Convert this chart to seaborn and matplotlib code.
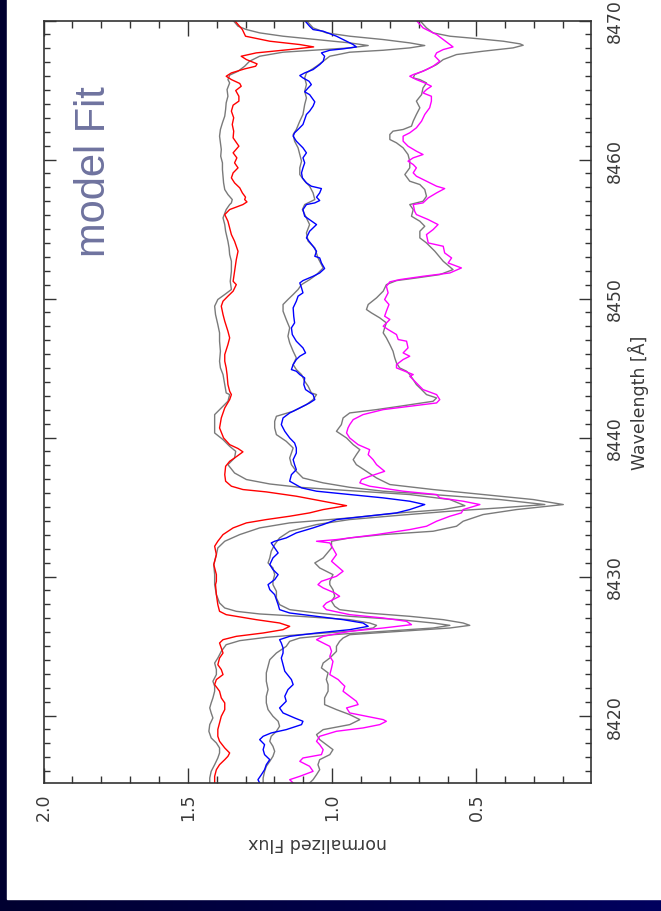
import numpy as np
import matplotlib
matplotlib.use("Agg")
import matplotlib.pyplot as plt
import seaborn as sns
from matplotlib.colors import LinearSegmentedColormap
from matplotlib.ticker import MultipleLocator, FormatStrFormatter
from matplotlib.patches import Rectangle

# ---------------- data (wavelength in Angstrom, normalized flux) ----------------
red_wl = [8470.0, 8469.35, 8468.87, 8468.51, 8468.27, 8468.10, 8467.91, 8467.67, 8467.43, 8467.19,
          8466.88, 8466.71, 8466.52, 8466.23, 8465.99, 8465.75, 8465.47, 8465.27, 8464.96, 8464.55,
          8464.20, 8463.91, 8463.48, 8463.00, 8462.52, 8462.04, 8461.56, 8460.96, 8460.48, 8460.12,
          8459.76, 8459.40, 8459.04, 8458.68, 8458.32, 8457.96, 8457.60, 8457.29, 8457.12, 8456.95,
          8456.76, 8456.40, 8456.04, 8455.56, 8455.08, 8454.60, 8454.12, 8453.40, 8452.80, 8451.96,
          8451.24, 8451.00, 8450.53, 8450.17, 8449.81, 8449.45, 8448.85, 8448.37, 8447.65, 8447.17,
          8446.69, 8445.97, 8445.49, 8445.01, 8444.53, 8443.81, 8443.33,
          8443.09, 8442.73, 8442.13, 8441.41, 8440.69, 8439.97, 8439.49, 8439.21, 8438.97, 8438.65,
          8438.29, 8437.93, 8437.33, 8436.86, 8436.50, 8436.26, 8436.09, 8435.78, 8435.42, 8435.10,
          8434.82, 8434.58, 8434.34, 8434.10, 8433.86, 8433.50, 8433.02, 8432.54, 8432.18, 8431.58,
          8430.86, 8430.14, 8429.66,
          8429.42, 8428.70, 8427.98, 8427.50, 8427.26, 8427.14, 8426.90, 8426.66, 8426.42, 8426.18,
          8425.94, 8425.70, 8425.46, 8425.22, 8424.86, 8424.50, 8424.14, 8423.66, 8423.31, 8422.95,
          8422.59, 8422.23, 8421.75, 8421.27, 8420.91, 8420.43, 8419.95, 8419.47, 8419.00, 8418.51,
          8418.15, 8417.67, 8417.31, 8417.07, 8416.83, 8416.47, 8416.11, 8415.63, 8415.15]
red_flux = [1.338, 1.311, 1.300, 1.216, 1.112, 1.064, 1.147, 1.263, 1.315, 1.297,
            1.260, 1.265, 1.303, 1.349, 1.367, 1.349, 1.320, 1.315, 1.334, 1.323,
            1.323, 1.343, 1.349, 1.341, 1.346, 1.341, 1.343, 1.323, 1.343, 1.330,
            1.338, 1.326, 1.343, 1.349, 1.338, 1.320, 1.311, 1.300, 1.303, 1.295,
            1.309, 1.355, 1.372, 1.361, 1.355, 1.349, 1.338, 1.326, 1.332, 1.338,
            1.343, 1.332, 1.343, 1.361, 1.378, 1.384, 1.378, 1.372, 1.361, 1.355,
            1.361, 1.372, 1.372, 1.367, 1.364, 1.361, 1.355,
            1.349, 1.355, 1.372, 1.384, 1.390, 1.376, 1.355, 1.326, 1.309, 1.330,
            1.355, 1.369, 1.372, 1.369, 1.349, 1.309, 1.228, 1.124, 1.031, 0.950,
            1.031, 1.078, 1.147, 1.228, 1.297, 1.343, 1.378, 1.396, 1.407, 1.401,
            1.410, 1.401, 1.401,
            1.404, 1.401, 1.396, 1.390, 1.367, 1.332, 1.263, 1.182, 1.147, 1.170,
            1.239, 1.332, 1.378, 1.390, 1.384, 1.378, 1.390, 1.396, 1.384, 1.378,
            1.401, 1.407, 1.390, 1.384, 1.372, 1.372, 1.384, 1.390, 1.396, 1.396,
            1.390, 1.372, 1.355, 1.361, 1.372, 1.390, 1.401, 1.407, 1.407]

grayA_wl = [8470.0, 8469.59, 8469.35, 8469.11, 8468.87, 8468.63, 8468.39, 8468.20, 8468.03, 8467.84,
            8467.72, 8467.43, 8467.07, 8466.71, 8466.35, 8466.07, 8465.75, 8465.51, 8465.03, 8464.55,
            8464.08, 8463.60, 8463.12, 8462.64, 8462.16, 8461.68, 8461.20, 8460.72, 8460.24, 8459.76,
            8459.28, 8458.80, 8458.32, 8457.84, 8457.48, 8457.12, 8456.88,
            8456.76, 8456.40, 8455.80, 8455.32, 8454.84, 8454.12, 8453.64, 8453.16, 8452.68, 8451.96,
            8451.24, 8450.65, 8450.29, 8449.93, 8449.45, 8448.85, 8448.13, 8447.53, 8446.93, 8446.21,
            8445.49, 8445.01, 8444.53, 8443.81, 8443.21,
            8443.09, 8442.61, 8442.13, 8441.65, 8440.93, 8440.33, 8439.85, 8439.37, 8439.01, 8438.53,
            8438.05, 8437.45, 8436.98, 8436.66, 8436.42, 8436.18, 8435.90, 8435.54, 8435.10, 8434.82,
            8434.58, 8434.22, 8433.86, 8433.50, 8433.02, 8432.54, 8432.06, 8431.58, 8430.86, 8430.14,
            8429.66,
            8429.42, 8428.70, 8428.10, 8427.74, 8427.50, 8427.31, 8427.14, 8426.90, 8426.66, 8426.49,
            8426.30, 8426.06, 8425.82, 8425.63, 8425.39, 8425.10, 8424.62, 8424.14, 8423.78, 8423.31,
            8422.95, 8422.47, 8422.11, 8421.75, 8421.27, 8420.91, 8420.55, 8420.19, 8419.83, 8419.35,
            8418.87, 8418.39, 8418.03, 8417.67, 8417.31, 8416.95, 8416.47, 8415.99, 8415.51, 8415.15]
grayA_flux = [1.343, 1.326, 1.297, 1.251, 1.170, 1.054, 0.939, 0.875, 0.939, 1.078,
              1.170, 1.251, 1.286, 1.303, 1.326, 1.355, 1.361, 1.355, 1.364, 1.361,
              1.367, 1.369, 1.372, 1.380, 1.387, 1.390, 1.387, 1.384, 1.386, 1.380,
              1.380, 1.378, 1.376, 1.372, 1.361, 1.346, 1.349,
              1.355, 1.367, 1.378, 1.372, 1.369, 1.361, 1.357, 1.355, 1.349, 1.349,
              1.353, 1.349, 1.372, 1.396, 1.407, 1.404, 1.396, 1.390, 1.390, 1.387,
              1.390, 1.387, 1.378, 1.372, 1.367,
              1.355, 1.361, 1.384, 1.407, 1.407, 1.407, 1.378, 1.355, 1.334, 1.338,
              1.361, 1.338, 1.297, 1.216, 1.112, 0.939, 0.731, 0.592, 0.540, 0.615,
              0.766, 0.939, 1.147, 1.251, 1.320, 1.372, 1.396, 1.401, 1.410, 1.407,
              1.407,
              1.407, 1.401, 1.390, 1.372, 1.332, 1.251, 1.112, 0.939, 0.870, 0.846,
              0.858, 0.939, 1.112, 1.228, 1.320, 1.367, 1.384, 1.396, 1.407, 1.401,
              1.401, 1.413, 1.407, 1.407, 1.413, 1.419, 1.424, 1.419, 1.413, 1.424,
              1.427, 1.419, 1.401, 1.390, 1.390, 1.396, 1.407, 1.419, 1.424, 1.424]

blue_wl = [8470.0, 8469.59, 8469.35, 8469.23, 8468.87, 8468.51, 8468.27, 8468.10, 8467.96, 8467.86,
           8467.67, 8467.43, 8467.07, 8466.83, 8466.47, 8466.23, 8466.04, 8465.87, 8465.63, 8465.39,
           8465.15, 8464.87, 8464.67, 8464.15, 8463.84, 8463.48, 8463.24, 8462.88, 8462.52, 8462.16,
           8461.92, 8461.68, 8461.32, 8460.84, 8460.48, 8460.12, 8459.76, 8459.40, 8459.04, 8458.68,
           8458.32, 8458.08, 8457.91, 8457.60, 8457.29, 8457.05, 8456.88,
           8456.76, 8456.40, 8455.92, 8455.32, 8454.84, 8454.36, 8453.76, 8453.40, 8453.04, 8452.92,
           8452.56, 8452.16, 8451.84, 8451.60, 8451.29, 8451.12, 8450.77, 8450.41, 8450.17, 8449.81,
           8449.33, 8448.73, 8448.25, 8447.89, 8447.41, 8446.93, 8446.45, 8446.09, 8445.85, 8445.61,
           8445.25, 8444.89, 8444.77, 8444.53, 8444.29, 8443.81, 8443.45,
           8443.09, 8442.73, 8442.49, 8442.13, 8441.77, 8441.41, 8440.93, 8440.45, 8439.97, 8439.61,
           8439.25, 8438.89, 8438.41, 8438.05, 8437.69, 8437.33, 8436.86, 8436.38, 8436.14, 8435.90,
           8435.66, 8435.42, 8435.18, 8434.82, 8434.58, 8434.34, 8434.10, 8433.74, 8433.50, 8433.14,
           8432.78, 8432.54, 8432.42, 8432.06, 8431.70, 8431.34, 8430.86, 8430.50, 8430.14, 8429.78,
           8429.42, 8429.06, 8428.70, 8428.34, 8427.98, 8427.62, 8427.38, 8427.14, 8426.90, 8426.66,
           8426.42, 8426.18, 8425.94, 8425.70, 8425.46, 8425.22, 8424.86, 8424.50, 8424.14, 8423.66,
           8423.19, 8422.59, 8422.23, 8421.87, 8421.39, 8421.03, 8420.55, 8420.19, 8419.83, 8419.59,
           8419.35, 8418.99, 8418.75, 8418.51, 8418.27, 8417.91, 8417.55, 8417.19, 8416.83, 8416.47,
           8416.11, 8415.75, 8415.39, 8415.15]
blue_flux = [1.095, 1.078, 1.066, 1.031, 0.985, 0.950, 0.927, 0.916, 0.962, 1.008,
             1.037, 1.026, 1.031, 1.043, 1.066, 1.095, 1.112, 1.101, 1.080, 1.072,
             1.083, 1.095, 1.078, 1.060, 1.066, 1.078, 1.089, 1.095, 1.101, 1.118,
             1.130, 1.135, 1.124, 1.101, 1.089, 1.101, 1.095, 1.101, 1.106, 1.103,
             1.089, 1.072, 1.037, 1.043, 1.054, 1.043, 1.060,
             1.089, 1.101, 1.095, 1.054, 1.078, 1.089, 1.066, 1.054, 1.060, 1.043,
             1.037, 1.026, 1.043, 1.066, 1.101, 1.112, 1.106, 1.101, 1.118, 1.124,
             1.135, 1.133, 1.130, 1.141, 1.138, 1.124, 1.101, 1.092, 1.112, 1.124,
             1.135, 1.141, 1.124, 1.112, 1.095, 1.098, 1.092,
             1.066, 1.060, 1.078, 1.112, 1.147, 1.170, 1.176, 1.164, 1.147, 1.130,
             1.124, 1.124, 1.135, 1.130, 1.124, 1.141, 1.147, 1.106, 1.054, 0.939,
             0.823, 0.731, 0.679, 0.731, 0.777, 0.881, 0.985, 1.031, 1.066, 1.124,
             1.159, 1.199, 1.211, 1.199, 1.187, 1.205, 1.216, 1.205, 1.187, 1.199,
             1.222, 1.216, 1.199, 1.193, 1.187, 1.182, 1.147, 1.054, 0.962, 0.893,
             0.875, 0.939, 1.054, 1.147, 1.182, 1.176, 1.170, 1.170, 1.176, 1.170,
             1.164, 1.141, 1.135, 1.153, 1.164, 1.159, 1.182, 1.170, 1.130, 1.101,
             1.106, 1.159, 1.211, 1.239, 1.251, 1.234, 1.239, 1.234, 1.216, 1.228,
             1.234, 1.245, 1.257, 1.251]

grayB_wl = [8470.0, 8469.47, 8469.11, 8468.87, 8468.63, 8468.39, 8468.20, 8468.03, 8467.86, 8467.72,
            8467.43, 8467.07, 8466.71, 8466.23, 8465.87, 8465.39, 8464.91, 8464.43, 8463.96, 8463.24,
            8462.76, 8462.16, 8461.80, 8461.32, 8460.84, 8460.36, 8459.88, 8459.40, 8458.92, 8458.44,
            8458.08, 8457.60, 8457.12,
            8456.76, 8456.40, 8455.80, 8455.32, 8454.72, 8454.12, 8453.64, 8452.92, 8452.44, 8452.20,
            8451.72, 8451.36, 8451.00, 8450.65, 8450.29, 8449.93, 8449.57, 8449.09, 8448.49, 8447.89,
            8447.29, 8446.81, 8446.21, 8445.73, 8445.25, 8444.89, 8444.53, 8444.05, 8443.69, 8443.21,
            8443.09, 8442.73, 8442.37, 8441.89, 8441.53, 8441.17, 8440.69, 8440.21, 8439.73, 8439.25,
            8438.53, 8438.05, 8437.57, 8437.09, 8436.74, 8436.42, 8436.14, 8435.90, 8435.54, 8435.18,
            8434.94, 8434.70, 8434.41, 8434.10, 8433.74, 8433.26, 8432.78, 8432.30, 8431.82, 8431.34,
            8430.98, 8430.62, 8430.14, 8429.66,
            8429.42, 8428.94, 8428.46, 8427.98, 8427.62, 8427.38, 8427.14, 8426.90, 8426.66, 8426.49,
            8426.30, 8426.06, 8425.82, 8425.58, 8425.34, 8424.98, 8424.50, 8424.02, 8423.55, 8423.07,
            8422.47, 8421.87, 8421.39, 8420.91, 8420.43, 8419.95, 8419.59, 8419.23, 8418.87, 8418.51,
            8418.15, 8417.79, 8417.43, 8417.07, 8416.71, 8416.35, 8415.99, 8415.51, 8415.15]
grayB_flux = [1.089, 1.066, 1.020, 0.939, 0.823, 0.731, 0.679, 0.731, 0.823, 0.939,
              1.008, 1.031, 1.054, 1.089, 1.095, 1.089, 1.095, 1.089, 1.095, 1.101,
              1.112, 1.124, 1.135, 1.130, 1.118, 1.112, 1.106, 1.112, 1.112, 1.095,
              1.078, 1.066, 1.060,
              1.095, 1.103, 1.089, 1.078, 1.089, 1.083, 1.060, 1.049, 1.037, 1.031,
              1.054, 1.078, 1.106, 1.118, 1.135, 1.153, 1.170, 1.170, 1.159, 1.147,
              1.153, 1.147, 1.135, 1.124, 1.135, 1.124, 1.106, 1.095, 1.083, 1.072,
              1.054, 1.066, 1.089, 1.135, 1.193, 1.199, 1.199, 1.193, 1.159, 1.135,
              1.147, 1.141, 1.124, 1.101, 1.031, 0.939, 0.823, 0.650, 0.419, 0.263,
              0.419, 0.592, 0.766, 0.939, 1.054, 1.147, 1.182, 1.199, 1.211, 1.216,
              1.222, 1.205, 1.199, 1.205,
              1.205, 1.193, 1.193, 1.182, 1.147, 1.054, 0.939, 0.766, 0.650, 0.592,
              0.650, 0.823, 0.997, 1.112, 1.147, 1.159, 1.193, 1.216, 1.222, 1.228,
              1.228, 1.222, 1.228, 1.228, 1.222, 1.205, 1.187, 1.182, 1.193, 1.211,
              1.216, 1.205, 1.199, 1.205, 1.216, 1.228, 1.234, 1.239, 1.239]

magenta_wl = [8470.0, 8469.47, 8469.23, 8468.99, 8468.63, 8468.27, 8468.10, 8467.91, 8467.67, 8467.43,
              8467.07, 8466.71, 8466.35, 8466.11, 8465.99, 8465.75, 8465.51, 8465.27, 8465.03, 8464.79,
              8464.55, 8464.20, 8463.72, 8463.24, 8462.76, 8462.28, 8461.92, 8461.68, 8461.32, 8460.96,
              8460.60, 8460.36, 8460.12, 8459.88, 8459.64, 8459.40, 8459.04, 8458.80, 8458.44, 8458.08,
              8457.91, 8457.60, 8457.24, 8456.88,
              8456.76, 8456.28, 8456.04, 8455.68, 8455.32, 8454.96, 8454.60, 8454.00, 8453.76, 8453.28,
              8452.92, 8452.56, 8452.20, 8451.84, 8451.60, 8451.36, 8451.20, 8450.88, 8450.41, 8449.93,
              8449.57, 8449.09, 8448.73, 8448.49, 8448.01, 8447.77, 8447.41, 8447.05, 8446.93, 8446.45,
              8446.09, 8445.85, 8445.61, 8445.25, 8445.01, 8444.77, 8444.53, 8444.41, 8443.93, 8443.45,
              8443.09, 8442.73, 8442.49, 8442.25, 8442.01, 8441.65, 8441.29, 8440.93, 8440.69, 8440.33,
              8439.97, 8439.49, 8439.13, 8438.77, 8438.41, 8438.05, 8437.57, 8437.21, 8436.98, 8436.74,
              8436.50, 8436.14, 8435.90, 8435.66, 8435.42, 8435.18, 8434.82, 8434.58, 8434.34, 8433.98,
              8433.62, 8433.38, 8433.02, 8432.66, 8432.54, 8432.42, 8431.58, 8431.10, 8430.38, 8430.02,
              8429.66,
              8429.42, 8429.18, 8428.82, 8428.58, 8428.34, 8428.10, 8427.86, 8427.62, 8427.26, 8427.02,
              8426.78, 8426.54, 8426.30, 8426.06, 8425.70, 8425.46, 8425.22, 8424.98, 8424.62, 8424.26,
              8423.90, 8423.43, 8422.95, 8422.59, 8422.35, 8422.11, 8421.75, 8421.39, 8421.03, 8420.79,
              8420.55, 8420.19, 8419.95, 8419.71, 8419.59, 8419.35, 8419.11, 8418.87, 8418.51, 8418.15,
              8417.91, 8417.55, 8417.19, 8416.95, 8416.71, 8416.35, 8415.99, 8415.63, 8415.39, 8415.15]
magenta_flux = [0.708, 0.685, 0.662, 0.638, 0.615, 0.592, 0.581, 0.615, 0.638, 0.644,
                0.627, 0.650, 0.685, 0.719, 0.731, 0.708, 0.679, 0.656, 0.673, 0.685,
                0.656, 0.656, 0.662, 0.679, 0.690, 0.708, 0.731, 0.754, 0.754, 0.737,
                0.708, 0.685, 0.719, 0.737, 0.719, 0.708, 0.719, 0.708, 0.673, 0.638,
                0.610, 0.638, 0.667, 0.685,
                0.719, 0.714, 0.708, 0.667, 0.633, 0.650, 0.673, 0.667, 0.615, 0.610,
                0.586, 0.598, 0.552, 0.592, 0.685, 0.766, 0.800, 0.812, 0.806, 0.818,
                0.803, 0.812, 0.818, 0.800, 0.823, 0.806, 0.777, 0.771, 0.742, 0.737,
                0.754, 0.731, 0.754, 0.777, 0.777, 0.748, 0.719, 0.731, 0.708, 0.685,
                0.638, 0.627, 0.638, 0.731, 0.823, 0.893, 0.927, 0.939, 0.945, 0.950,
                0.939, 0.910, 0.870, 0.875, 0.858, 0.846, 0.818, 0.870, 0.898, 0.904,
                0.870, 0.754, 0.638, 0.627, 0.546, 0.488, 0.546, 0.552, 0.592, 0.638,
                0.673, 0.731, 0.846, 0.985, 1.054, 1.008, 0.985, 1.002, 0.962, 0.985,
                1.037,
                1.049, 1.031, 0.991, 0.974, 0.997, 1.020, 1.031, 1.020, 0.939, 0.823,
                0.742, 0.725, 0.823, 0.939, 1.031, 1.054, 1.031, 1.008, 1.002, 1.008,
                0.997, 1.002, 1.008, 0.979, 0.968, 0.956, 0.962, 0.939, 0.916, 0.910,
                0.950, 0.939, 0.881, 0.823, 0.812, 0.835, 0.893, 0.985, 1.043, 1.054,
                1.043, 1.031, 1.037, 1.101, 1.112, 1.078, 1.066, 1.112, 1.147, 1.135]

grayC_wl = [8470.0, 8469.47, 8469.11, 8468.87, 8468.70, 8468.51, 8468.32, 8468.22, 8468.03, 8467.79,
            8467.55, 8467.19, 8466.83, 8466.47, 8466.11, 8465.87, 8465.75, 8465.51, 8465.15, 8464.67,
            8464.20, 8463.72, 8463.24, 8462.76, 8462.40, 8462.16, 8462.04, 8461.80, 8461.44, 8461.20,
            8460.84, 8460.36, 8459.88, 8459.40, 8458.92, 8458.44, 8458.20, 8457.84, 8457.36, 8457.00,
            8456.76, 8456.40, 8455.92, 8455.56, 8455.20, 8454.84, 8454.36, 8454.00, 8453.40, 8452.68,
            8452.08, 8451.72, 8451.48, 8451.29, 8451.00, 8450.53, 8450.05, 8449.57, 8449.21, 8448.97,
            8448.61, 8448.25, 8447.89, 8447.53, 8447.17, 8446.69, 8446.21, 8445.73, 8445.37, 8445.01,
            8444.77, 8444.53, 8444.17, 8443.81, 8443.45,
            8443.09, 8442.85, 8442.61, 8442.25, 8442.01, 8441.77, 8441.41, 8440.93, 8440.45, 8439.97,
            8439.49, 8439.13, 8438.77, 8438.41, 8438.05, 8437.57, 8437.09, 8436.62, 8436.26, 8435.90,
            8435.54, 8435.18, 8434.82, 8434.46, 8433.98, 8433.62, 8433.26, 8433.02, 8432.78, 8432.54,
            8432.06, 8431.34, 8430.98, 8430.62, 8430.14, 8429.66,
            8429.42, 8429.06, 8428.58, 8428.22, 8427.86, 8427.62, 8427.38, 8427.14, 8426.90, 8426.66,
            8426.49, 8426.30, 8426.06, 8425.82, 8425.58, 8425.34, 8424.98, 8424.62, 8424.14, 8423.78,
            8423.43, 8423.07, 8422.59, 8422.23, 8421.75, 8421.27, 8420.79, 8420.43, 8420.07, 8419.71,
            8419.35, 8418.99, 8418.63, 8418.27, 8417.91, 8417.55, 8417.19, 8416.83, 8416.47, 8416.11,
            8415.75, 8415.39, 8415.15]
grayC_flux = [0.696, 0.673, 0.650, 0.592, 0.500, 0.407, 0.349, 0.338, 0.373, 0.477,
              0.569, 0.615, 0.638, 0.673, 0.714, 0.719, 0.696, 0.673, 0.685, 0.690,
              0.708, 0.696, 0.708, 0.719, 0.725, 0.754, 0.789, 0.800, 0.800, 0.777,
              0.754, 0.737, 0.731, 0.731, 0.748, 0.731, 0.696, 0.679, 0.673, 0.685,
              0.731, 0.719, 0.725, 0.696, 0.679, 0.696, 0.696, 0.673, 0.644, 0.615,
              0.581, 0.627, 0.708, 0.777, 0.812, 0.823, 0.846, 0.875, 0.881, 0.864,
              0.835, 0.812, 0.818, 0.823, 0.812, 0.800, 0.789, 0.783, 0.777, 0.766,
              0.742, 0.731, 0.719, 0.708, 0.690,
              0.673, 0.638, 0.650, 0.766, 0.846, 0.939, 0.962, 0.968, 0.985, 0.950,
              0.927, 0.904, 0.916, 0.927, 0.916, 0.881, 0.846, 0.800, 0.650, 0.477,
              0.303, 0.199, 0.361, 0.477, 0.546, 0.569, 0.650, 0.823, 0.939, 1.002,
              1.002, 1.031, 1.060, 1.043, 0.997, 1.008,
              1.008, 0.997, 0.991, 1.002, 0.991, 0.974, 0.881, 0.731, 0.615, 0.546,
              0.523, 0.592, 0.766, 0.939, 0.962, 0.974, 0.985, 0.985, 1.008, 1.031,
              1.037, 1.014, 1.020, 1.014, 1.014, 1.026, 1.026, 0.985, 0.939, 0.904,
              0.939, 1.031, 1.054, 1.043, 1.020, 0.997, 1.008, 1.043, 1.049, 1.043,
              1.054, 1.066, 1.078]

flux_ticks = [2.0, 1.5, 1.0, 0.5]
wave_ticks = [8420, 8430, 8440, 8450, 8460, 8470]

# ---------------- figure ----------------
sns.set_theme(style="white")
plt.rcParams['font.family'] = ['DejaVu Sans']

W, H = 661, 912
fig = plt.figure(figsize=(W / 100, H / 100), dpi=100)

# navy gradient background with white panel
bg = fig.add_axes([0, 0, 1, 1], zorder=-10)
grad = np.linspace(0, 1, 256).reshape(1, -1)
navy = LinearSegmentedColormap.from_list('navy', ['#000030', '#00005e'])
bg.imshow(grad, aspect='auto', cmap=navy, extent=[0, 1, 0, 1])
bg.add_patch(Rectangle((7 / W, 12 / H), 1 - 7 / W, 1 - 12 / H, color='white', zorder=2))
bg.set_xlim(0, 1)
bg.set_ylim(0, 1)
bg.axis('off')

left, right, top, bottom = 43.5, 591.0, 21.5, 784.0
ax = fig.add_axes([left / W, 1 - bottom / H, (right - left) / W, (bottom - top) / H])
ax.set_facecolor('white')

gray = '#7a7a7a'
pairs = [
    (grayA_wl, grayA_flux, gray), (red_wl, red_flux, '#ff0000'),
    (grayB_wl, grayB_flux, gray), (blue_wl, blue_flux, '#0000ff'),
    (grayC_wl, grayC_flux, gray), (magenta_wl, magenta_flux, '#ff00ff'),
]
for wl, fl, c in pairs:
    assert len(wl) == len(fl), (len(wl), len(fl))
    sns.lineplot(x=fl, y=wl, sort=False, orient='y', estimator=None,
                 color=c, lw=1.0, ax=ax)

ax.set_xlim(2.0, 0.103)
ax.set_ylim(8415.15, 8470.0)

ax.set_xticks(flux_ticks)
ax.set_yticks(wave_ticks)
ax.xaxis.set_minor_locator(MultipleLocator(0.1))
ax.yaxis.set_minor_locator(MultipleLocator(1))
ax.xaxis.set_major_formatter(FormatStrFormatter('%.1f'))
ax.yaxis.set_major_formatter(FormatStrFormatter('%d'))

txt = '#3a3a3a'
ax.tick_params(which='both', direction='in', top=True, bottom=True, left=True, right=True,
               labelleft=False, labelright=True, labelbottom=True, labeltop=False,
               color='#333333', width=1.0, labelcolor=txt)
ax.tick_params(axis='x', which='major', length=10.5, pad=7, labelsize=12.5, labelrotation=90)
ax.tick_params(axis='x', which='minor', length=5)
ax.tick_params(axis='y', which='major', length=8.5, pad=11, labelsize=12.5, labelrotation=90)
ax.tick_params(axis='y', which='minor', length=4.5)
for lab in ax.get_yticklabels():
    lab.set_va('center')

for sp in ax.spines.values():
    sp.set_color('#333333')
    sp.set_linewidth(1.2)
    sp.set_visible(True)

ax.set_xlabel('normalized Flux', fontsize=12.5, rotation=180, color=txt)
ax.xaxis.label.set_va('center')
ax.xaxis.set_label_coords(0.5, -0.0774)

ax.yaxis.set_label_position('right')
ax.set_ylabel('Wavelength [Å]', fontsize=12.5, rotation=90, color=txt)
ax.yaxis.label.set_va('center')
ax.yaxis.label.set_ha('center')
ax.yaxis.set_label_coords(1.086, 0.5)

ax.text(0.1123, 0.8033, 'model Fit', transform=ax.transAxes, rotation=90,
        rotation_mode='anchor', ha='center', va='baseline', fontsize=30,
        family=['Liberation Sans', 'DejaVu Sans'], color='#6f739f')

fig.savefig('out.png', dpi=100)
